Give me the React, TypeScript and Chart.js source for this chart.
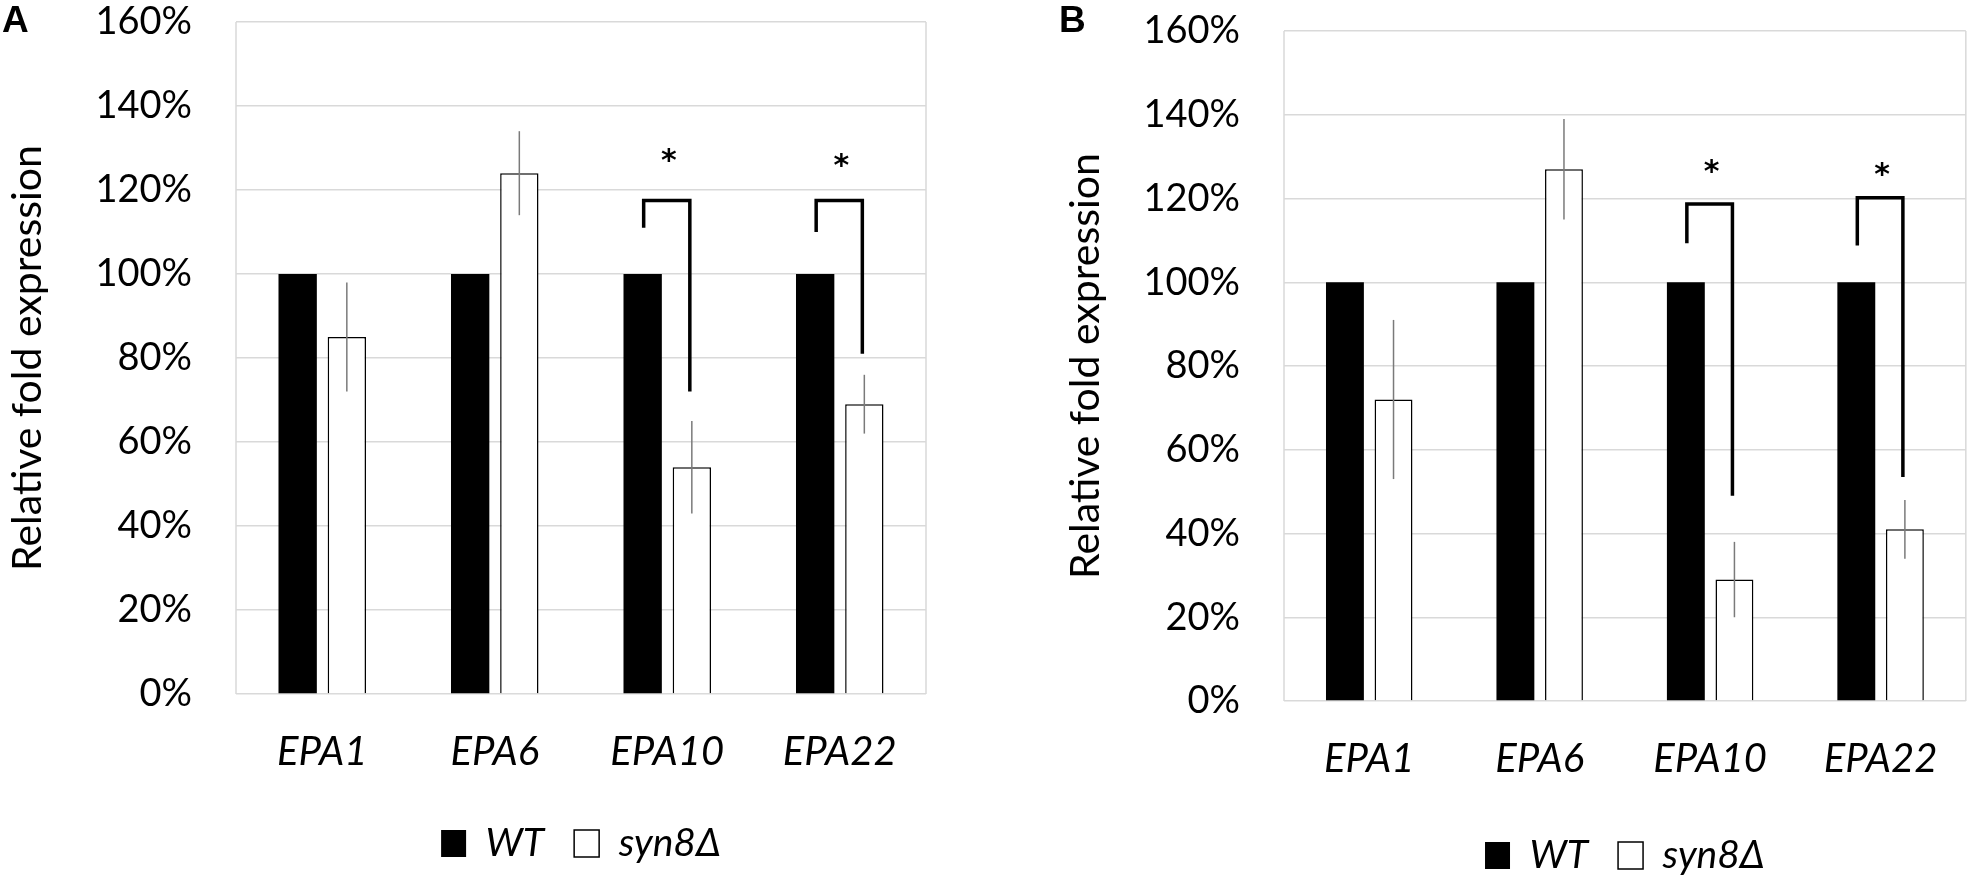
import React, { useEffect, useRef } from 'react';
import { Chart, registerables } from 'chart.js';

Chart.register(...registerables);

// ---------- data ----------
const categories = ['EPA1', 'EPA6', 'EPA10', 'EPA22'];
const seriesNames = ['WT', 'syn8Δ'];
const yAxisTitle = 'Relative fold expression';
const yMin = 0;
const yMax = 160;
const yStep = 20;

// Panel A
const wtA = [100, 100, 100, 100];
const syn8A = [85, 124, 54, 69];
const syn8ErrA = [13, 10, 11, 7];
const bracketCatA = [2, 3];
const bracketWtEndA = [111, 110];
const bracketTopA = [117.5, 117.5];
const bracketSynEndA = [72, 81];
const starA = [128.5, 127.5];

// Panel B
const wtB = [100, 100, 100, 100];
const syn8B = [72, 127, 29, 41];
const syn8ErrB = [19, 12, 9, 7];
const bracketCatB = [2, 3];
const bracketWtEndB = [109.3, 108.8];
const bracketTopB = [118.7, 120.2];
const bracketSynEndB = [49, 53.5];
const starB = [128, 127.3];

const FONT = 'Lato';

type PanelProps = {
  wt: number[];
  syn8: number[];
  err: number[];
  bCat: number[];
  bWt: number[];
  bTop: number[];
  bSyn: number[];
  star: number[];
  width: number;
  height: number;
  left: number;
  top: number;
  yAxisWidth: number;
  xAxisHeight: number;
  padTop: number;
  padRight: number;
  padBottom: number;
};

function makePlugin(p: PanelProps) {
  return {
    id: 'annot',
    beforeDatasetsDraw(chart: any) {
      const { ctx, chartArea } = chart;
      ctx.save();
      ctx.strokeStyle = '#d9d9d9';
      ctx.lineWidth = 1.5;
      ctx.beginPath();
      ctx.moveTo(chartArea.left, chartArea.top);
      ctx.lineTo(chartArea.left, chartArea.bottom);
      ctx.moveTo(chartArea.right, chartArea.top);
      ctx.lineTo(chartArea.right, chartArea.bottom);
      ctx.stroke();
      ctx.restore();
    },
    afterDatasetsDraw(chart: any) {
      const ctx = chart.ctx;
      const y = chart.scales.y;
      const m0 = chart.getDatasetMeta(0);
      const m1 = chart.getDatasetMeta(1);
      ctx.save();
      // error bars
      ctx.strokeStyle = '#7a7a7a';
      ctx.lineWidth = 1.5;
      m1.data.forEach((bar: any, i: number) => {
        const v = p.syn8[i];
        const e = p.err[i];
        ctx.beginPath();
        ctx.moveTo(bar.x, y.getPixelForValue(v + e));
        ctx.lineTo(bar.x, y.getPixelForValue(v - e));
        ctx.stroke();
      });
      // significance brackets
      ctx.strokeStyle = '#000';
      ctx.lineWidth = 3.5;
      ctx.lineJoin = 'miter';
      ctx.lineCap = 'butt';
      p.bCat.forEach((c, k) => {
        const xl = m0.data[c].x + 1;
        const xr = m1.data[c].x - 2;
        ctx.beginPath();
        ctx.moveTo(xl, y.getPixelForValue(p.bWt[k]));
        ctx.lineTo(xl, y.getPixelForValue(p.bTop[k]));
        ctx.lineTo(xr, y.getPixelForValue(p.bTop[k]));
        ctx.lineTo(xr, y.getPixelForValue(p.bSyn[k]));
        ctx.stroke();
        ctx.fillStyle = '#000';
        ctx.font = 'bold 30px "DejaVu Sans"';
        ctx.textAlign = 'center';
        ctx.textBaseline = 'alphabetic';
        ctx.fillText('*', (xl + xr) / 2 + 2, y.getPixelForValue(p.star[k]) + 16);
      });
      ctx.restore();
    },
  };
}

function Panel(p: PanelProps) {
  const ref = useRef<HTMLCanvasElement | null>(null);
  useEffect(() => {
    if (!ref.current) return;
    const chart = new Chart(ref.current, {
      type: 'bar',
      data: {
        labels: categories,
        datasets: [
          {
            label: seriesNames[0],
            data: p.wt,
            backgroundColor: '#000',
            borderColor: '#000',
            borderWidth: 0,
            categoryPercentage: 0.57,
            barPercentage: 0.78,
          },
          {
            label: seriesNames[1],
            data: p.syn8,
            backgroundColor: '#fff',
            borderColor: '#000',
            borderWidth: 1.5,
            categoryPercentage: 0.57,
            barPercentage: 0.78,
          },
        ],
      },
      options: {
        responsive: false,
        animation: false,
        events: [],
        layout: {
          padding: { top: p.padTop, right: p.padRight, bottom: p.padBottom, left: 0 },
        },
        scales: {
          x: {
            grid: { display: false, drawTicks: false },
            border: { display: false },
            ticks: {
              color: '#000',
              padding: 34,
              font: { family: FONT, size: 40, style: 'italic' },
            },
            afterFit: (s: any) => {
              s.height = p.xAxisHeight;
            },
          },
          y: {
            min: yMin,
            max: yMax,
            grid: { color: '#d9d9d9', lineWidth: 1.5, drawTicks: false },
            border: { display: false },
            ticks: {
              stepSize: yStep,
              color: '#000',
              padding: 44,
              font: { family: FONT, size: 38 },
              callback: (v: any) => `${v}%`,
            },
            title: {
              display: true,
              text: yAxisTitle,
              color: '#000',
              font: { family: FONT, size: 41 },
              padding: { top: 3, bottom: 0 },
            },
            afterFit: (s: any) => {
              s.width = p.yAxisWidth;
              s.paddingTop = 0;
              s.paddingBottom = 0;
            },
          },
        },
        plugins: {
          legend: {
            position: 'bottom',
            fullSize: false,
            labels: {
              color: '#000',
              boxWidth: 25,
              boxHeight: 27,
              padding: 30,
              font: { family: FONT, size: 39, style: 'italic' },
            },
          },
          tooltip: { enabled: false },
        },
      },
      plugins: [makePlugin(p)],
    } as any);
    return () => chart.destroy();
  }, []);
  return (
    <canvas
      ref={ref}
      width={p.width}
      height={p.height}
      style={{ position: 'absolute', left: p.left, top: p.top, width: p.width, height: p.height }}
    />
  );
}

const letterStyle: React.CSSProperties = {
  position: 'absolute',
  fontFamily: '"Liberation Sans", Arial, sans-serif',
  fontWeight: 'bold',
  fontSize: 37,
  lineHeight: '37px',
  color: '#000',
};

export default function App() {
  return (
    <div
      style={{
        position: 'absolute',
        left: 0,
        top: 0,
        width: 1972,
        height: 883,
        overflow: 'hidden',
        background: '#fff',
      }}
    >
      <Panel
        wt={wtA}
        syn8={syn8A}
        err={syn8ErrA}
        bCat={bracketCatA}
        bWt={bracketWtEndA}
        bTop={bracketTopA}
        bSyn={bracketSynEndA}
        star={starA}
        width={1000}
        height={883}
        left={0}
        top={0}
        yAxisWidth={236}
        xAxisHeight={100}
        padTop={22}
        padRight={74}
        padBottom={10}
      />
      <Panel
        wt={wtB}
        syn8={syn8B}
        err={syn8ErrB}
        bCat={bracketCatB}
        bWt={bracketWtEndB}
        bTop={bracketTopB}
        bSyn={bracketSynEndB}
        star={starB}
        width={914}
        height={883}
        left={1058}
        top={0}
        yAxisWidth={226}
        xAxisHeight={105}
        padTop={31}
        padRight={4}
        padBottom={-2}
      />
      <div style={{ ...letterStyle, left: 2, top: 1 }}>A</div>
      <div style={{ ...letterStyle, left: 1059, top: 1 }}>B</div>
    </div>
  );
}
